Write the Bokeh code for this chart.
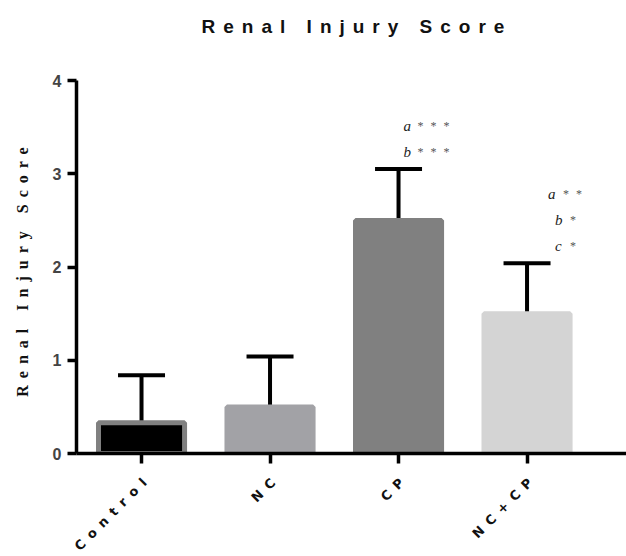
import math
from bokeh.plotting import figure
from bokeh.models import (ColumnDataSource, Range1d, FixedTicker, Whisker, TeeHead, Div)
from bokeh.layouts import column, row
from bokeh.embed import file_html
from bokeh.resources import INLINE
from bokeh.core.properties import value

# ---- data ----
categories = ["Control", "NC", "CP", "NC+CP"]
means = [0.33, 0.50, 2.50, 1.50]
errors = [0.51, 0.54, 0.55, 0.54]
y_ticks = [0, 1, 2, 3, 4]
y_title = "Renal Injury Score"
chart_title = "Renal Injury Score"

# significance annotations: group index, text, row above the error cap
sig_group = [2, 2, 3, 3, 3]
sig_letter = ["a", "b", "a", "b", "c"]
sig_stars = ["***", "***", "**", "*", "*"]
sig_row = [1, 0, 2, 1, 0]

# ---- styles ----
SPACING = 7  # letter spacing (px) of the original figure
CSS = [":host { letter-spacing: %dpx; }" % SPACING]
bar_fill = ["#000000", "#a2a2a6", "#808080", "#d4d4d4"]
bar_edge = ["#808080", "#a2a2a6", "#808080", "#d4d4d4"]
letter_dx = [5, 5, 21, 28, 28]
star_dx = [19, 19, 36, 43, 43]
X0, X1 = -0.506, 3.774
LEFT_W, MAIN_W, FRAME_LEFT = 40, 586, 36
MAIN_H, TOP_B, BOT_B = 405, 20, 12
BOTTOM_H = 91

xs = list(range(len(categories)))
upper = [m + e for m, e in zip(means, errors)]
src = ColumnDataSource(dict(x=xs, top=means, upper=upper, fill=bar_fill, edge=bar_edge))

y_range = Range1d(0, 4)
p = figure(width=MAIN_W, height=MAIN_H, output_backend="svg", toolbar_location=None,
           x_range=Range1d(X0, X1), y_range=y_range,
           min_border_left=FRAME_LEFT, min_border_right=0, min_border_top=TOP_B,
           min_border_bottom=BOT_B)
p.outline_line_color = None
p.xgrid.visible = False
p.ygrid.visible = False
p.stylesheets = CSS

p.vbar(x="x", top="top", width=0.67, bottom=0, source=src,
       fill_color="fill", line_color="edge", line_width=5)

w = Whisker(base="x", lower="top", upper="upper", source=src, line_color="black", line_width=4,
            lower_head=None, upper_head=TeeHead(size=47, line_width=4, line_color="black"))
p.add_layout(w)

sy = [upper[g] for g in sig_group]
sig_src = ColumnDataSource(dict(x=sig_group, y=sy, letter=sig_letter, stars=sig_stars,
                                yo=[-(17 + 26 * r) for r in sig_row],
                                lx=letter_dx, stx=star_dx))
p.text(x="x", y="y", text="letter", x_offset="lx", y_offset="yo", source=sig_src,
       text_font=value("Liberation Serif"), text_font_style="italic", text_font_size="15px",
       text_color="#222222", text_align="left", text_baseline="middle")
p.text(x="x", y="y", text="stars", x_offset="stx", y_offset="yo", source=sig_src,
       text_font=value("Liberation Serif"), text_font_size="12px",
       text_color="#555555", text_align="left", text_baseline="middle")

ya = p.yaxis[0]
ya.ticker = FixedTicker(ticks=y_ticks)
ya.axis_line_width = 3.5
ya.major_tick_line_width = 3.5
ya.major_tick_out = 9
ya.major_tick_in = 0
ya.minor_tick_line_color = None
ya.major_label_text_font = "Liberation Sans"
ya.major_label_text_font_style = "bold"
ya.major_label_text_font_size = "16px"
ya.major_label_standoff = 6

xa = p.xaxis[0]
xa.ticker = FixedTicker(ticks=xs)
xa.major_label_overrides = {i: "" for i in xs}
xa.axis_line_width = 3.5
xa.major_tick_line_width = 3.5
xa.major_tick_out = 10
xa.major_tick_in = 0
xa.minor_tick_line_color = None

# ---- y axis title panel ----
yl = figure(width=LEFT_W, height=MAIN_H, output_backend="svg", toolbar_location=None,
            x_range=Range1d(0, 1), y_range=y_range, x_axis_location=None, y_axis_location=None,
            min_border_left=0, min_border_right=0, min_border_top=TOP_B, min_border_bottom=BOT_B)
yl.outline_line_color = None
yl.grid.visible = False
yl.stylesheets = CSS
extra_y = SPACING * (len(y_title) - 1)
yl.text(x=[0.55], y=[(y_ticks[0] + y_ticks[-1]) / 2], text=[y_title], angle=math.pi / 2,
        y_offset=extra_y / 2 + 5, text_align="center", text_baseline="middle",
        text_font=value("Liberation Serif"), text_font_style="bold", text_font_size="16px",
        text_color="#111111")

# ---- category label panel (below) ----
px_per_unit = (MAIN_W - FRAME_LEFT) / (X1 - X0)
bt = figure(width=LEFT_W + MAIN_W, height=BOTTOM_H, output_backend="svg", toolbar_location=None,
            x_range=Range1d(X0 - (LEFT_W + FRAME_LEFT) / px_per_unit, X1),
            y_range=Range1d(-BOTTOM_H, 0), x_axis_location=None, y_axis_location=None,
            min_border_left=0, min_border_right=0, min_border_top=0, min_border_bottom=0)
bt.outline_line_color = None
bt.grid.visible = False
bt.stylesheets = CSS
c45 = math.cos(math.pi / 4)
extra_x = [SPACING * (len(c) - 1) for c in categories]
bt.text(x=xs, y=[0] * len(xs), text=categories,
        x_offset=[3 - e * c45 for e in extra_x], y_offset=[15 + e * c45 for e in extra_x],
        angle=math.pi / 4, text_align="right", text_baseline="middle",
        text_font=value("DejaVu Sans"), text_font_style="bold", text_font_size="13px",
        text_color="#111111")

title = Div(text=chart_title, width=LEFT_W + MAIN_W, height=50,
            styles={"font-family": "Liberation Sans", "font-weight": "bold", "font-size": "19px",
                    "letter-spacing": "8px", "text-align": "center", "padding-left": "78px",
                    "padding-top": "8px", "box-sizing": "border-box", "color": "#111111"})

layout = column(title, row(yl, p, spacing=0), bt, spacing=0)
open("out.html", "w").write(file_html(layout, INLINE))
